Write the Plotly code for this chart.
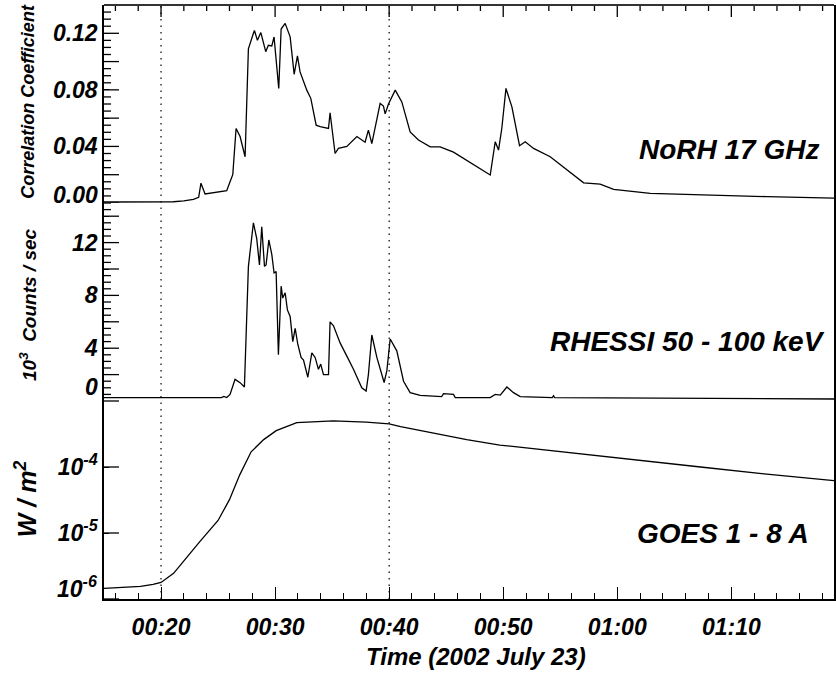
import plotly.graph_objects as go

# ---------------- data (time in minutes after 00:00 UT, 2002 July 23) -------------
norh_t = [15, 18, 21.08, 22.0, 22.84, 23.3, 23.5, 23.86, 24.5, 25.2, 25.76, 26.05, 26.29, 26.58,
          26.93, 27.37, 27.66, 28.1, 28.19, 28.45, 28.75, 29.18, 29.41, 29.71, 29.91, 30.32,
          30.53, 30.88, 31.32, 31.67, 31.96, 32.19, 32.78, 33.13, 33.6, 33.95, 34.68, 34.82,
          35.26, 35.55, 36.29, 37.17, 37.89, 38.18, 38.48, 39.21, 39.5, 39.65, 39.94, 40.53,
          41.11, 41.84, 42.57, 43.6, 44.47, 45.64, 48.86, 49.3, 49.59, 49.88, 50.24, 50.76,
          51.43, 51.93, 52.66, 54.12, 55.59, 57.05, 58.5, 59.68, 62.89, 67.28, 73.13, 79.0]
norh_v = [0.0007, 0.0007, 0.0009, 0.0015, 0.0026, 0.004, 0.014, 0.0064, 0.007, 0.0078, 0.0087,
          0.015, 0.020, 0.0527, 0.047, 0.0327, 0.109, 0.120, 0.122, 0.115, 0.1205, 0.107,
          0.1115, 0.111, 0.1174, 0.081, 0.123, 0.127, 0.1175, 0.091, 0.104, 0.0927, 0.0798,
          0.074, 0.055, 0.054, 0.0527, 0.0638, 0.035, 0.0386, 0.040, 0.047, 0.043, 0.0515,
          0.042, 0.0704, 0.0685, 0.063, 0.070, 0.0798, 0.0715, 0.0503, 0.0445, 0.0397, 0.0397,
          0.036, 0.0198, 0.0433, 0.0374, 0.053, 0.081, 0.068, 0.0405, 0.0433, 0.0386, 0.0327,
          0.0233, 0.0143, 0.0134, 0.0097, 0.0068, 0.0056, 0.0045, 0.0035]

rhessi_t = [15, 25.3, 25.5, 25.76, 26.05, 26.49, 26.93, 27.31, 27.66, 27.86, 28.1, 28.39, 28.63,
            28.83, 29.07, 29.21, 29.45, 29.71, 29.91, 30.09, 30.29, 30.53, 30.67, 30.88, 31.08,
            31.32, 31.55, 31.76, 31.99, 32.28, 32.49, 32.87, 33.22, 33.51, 33.8, 34.0, 34.24,
            34.68, 34.82, 35.12, 35.7, 36.29, 36.87, 37.6, 37.98, 38.18, 38.48, 38.92, 39.56,
            39.8, 40.09, 40.67, 41.26, 41.84, 42.72, 44.6, 44.77, 45.64, 45.79, 48.86, 49.3,
            49.74, 50.32, 50.9, 51.49, 54.3, 54.41, 54.5, 79.0]
rhessi_v = [0.26, 0.26, 0.35, 0.26, 0.5, 1.64, 1.39, 1.06, 10.2, 11.8, 13.5, 12.3, 10.3, 13.2,
            10.2, 10.3, 12.2, 11.1, 9.7, 9.8, 3.5, 8.7, 7.8, 8.2, 6.9, 6.4, 4.5, 5.5, 4.3, 3.3,
            3.1, 1.8, 3.65, 3.3, 2.4, 2.8, 2.0, 2.0, 6.0, 5.7, 4.4, 3.4, 2.4, 1.0, 0.75, 2.0,
            5.0, 3.3, 1.4, 2.3, 4.7, 3.8, 1.5, 0.63, 0.43, 0.33, 0.56, 0.5, 0.26, 0.26, 0.5,
            0.45, 1.06, 0.63, 0.33, 0.26, 0.4, 0.26, 0.15]

goes_t = [15, 18.2, 19.3, 20.0, 21.1, 22.2, 23.4, 25.0, 26.0, 26.9, 27.9, 29.0, 30.1, 31.9,
          35.1, 38.0, 40.0, 41.0, 42.7, 43.9, 46.8, 49.7, 55.6, 61.4, 67.3, 73.1, 79.0]
goes_v = [1.45e-6, 1.55e-6, 1.66e-6, 1.78e-6, 2.45e-6, 4.2e-6, 7.4e-6, 1.55e-5, 3.2e-5,
          7.6e-5, 1.7e-4, 2.6e-4, 3.55e-4, 4.7e-4, 5.0e-4, 4.8e-4, 4.5e-4, 4.1e-4, 3.6e-4,
          3.2e-4, 2.6e-4, 2.15e-4, 1.65e-4, 1.3e-4, 1.0e-4, 7.8e-5, 6.2e-5]

time_range = [15, 79]
time_ticks = [20, 30, 40, 50, 60, 70]
time_labels = ["00:20", "00:30", "00:40", "00:50", "01:00", "01:10"]
time_minor = [16, 18, 22, 24, 26, 28, 32, 34, 36, 38, 42, 44, 46, 48, 52, 54, 56, 58,
              62, 64, 66, 68, 72, 74, 76, 78]
marker_times = [20, 40]

norh_range = [0, 0.14]
norh_ticks = [0.0, 0.02, 0.04, 0.06, 0.08, 0.10, 0.12]
norh_labels = ["", "", "0.04", "", "0.08", "", "0.12"]
norh_minor = [0.005, 0.01, 0.015, 0.025, 0.03, 0.035, 0.045, 0.05, 0.055, 0.065, 0.07, 0.075,
              0.085, 0.09, 0.095, 0.105, 0.11, 0.115, 0.125, 0.13, 0.135]
rhessi_range = [0, 15]
rhessi_ticks = [0, 2, 4, 6, 8, 10, 12, 14]
rhessi_labels = ["", "", "4", "", "8", "", "12", ""]
rhessi_minor = [0.5, 1, 1.5, 2.5, 3, 3.5, 4.5, 5, 5.5, 6.5, 7, 7.5, 8.5, 9, 9.5, 10.5, 11,
                11.5, 12.5, 13, 13.5, 14.5, 15]
goes_ticks = [1e-6, 1e-5, 1e-4, 1e-3]
goes_labels = ["", "10<sup>-5</sup>", "10<sup>-4</sup>", ""]

# ---------------- styling ----------------
FAM = "Liberation Sans, Arial, sans-serif"
def F(size):
    return dict(family=FAM, size=size, color="black", weight="bold", style="italic")

TC = "black"
W, H = 836, 677
ML, MR, MT, MB = 104, 2, 5, 78
PLOT_W = W - ML - MR
PANEL_H = (H - MT - MB) / 3.0

fig = go.Figure()
lw = 1.3
fig.add_trace(go.Scatter(x=norh_t, y=norh_v, xaxis="x4", yaxis="y3", mode="lines",
                         line=dict(color="black", width=lw), showlegend=False))
fig.add_trace(go.Scatter(x=rhessi_t, y=rhessi_v, xaxis="x3", yaxis="y2", mode="lines",
                         line=dict(color="black", width=lw), showlegend=False))
fig.add_trace(go.Scatter(x=goes_t, y=goes_v, xaxis="x", yaxis="y", mode="lines",
                         line=dict(color="black", width=lw), showlegend=False))
fig.add_trace(go.Scatter(x=[None], y=[None], xaxis="x2", yaxis="y3", showlegend=False,
                         hoverinfo="skip"))

# ---- tick marks on the left and top frame edges, as short line segments ----
min_per_px = (time_range[1] - time_range[0]) / PLOT_W
norh_per_px = (norh_range[1] - norh_range[0]) / PANEL_H


def left_ticks(vals, length_px, xa, ya):
    xs, ys = [], []
    x0 = time_range[0]
    x1 = x0 + length_px * min_per_px
    for v in vals:
        xs += [x0, x1, None]
        ys += [v, v, None]
    fig.add_trace(go.Scatter(x=xs, y=ys, xaxis=xa, yaxis=ya, mode="lines",
                             line=dict(color=TC, width=1.3), showlegend=False,
                             hoverinfo="skip", cliponaxis=False))


def top_ticks(vals, length_px):
    xs, ys = [], []
    y0 = norh_range[1]
    y1 = y0 - length_px * norh_per_px
    for v in vals:
        xs += [v, v, None]
        ys += [y0, y1, None]
    fig.add_trace(go.Scatter(x=xs, y=ys, xaxis="x4", yaxis="y3", mode="lines",
                             line=dict(color=TC, width=1.3), showlegend=False,
                             hoverinfo="skip", cliponaxis=False))


left_ticks(norh_ticks, 15, "x4", "y3")
left_ticks(norh_minor, 7, "x4", "y3")
left_ticks(rhessi_ticks, 15, "x3", "y2")
left_ticks(rhessi_minor, 7, "x3", "y2")
left_ticks(goes_ticks, 15, "x", "y")
top_ticks(time_ticks, 12)
top_ticks(time_minor, 6)

base_y = dict(showgrid=False, zeroline=False, showline=True, linecolor="black",
              linewidth=1.5, mirror=True, tickcolor=TC, tickwidth=1.3,
              tickfont=F(23), automargin=False, ticks="inside", ticklen=5,
              ticklabelstandoff=0)
hidden_x = dict(range=time_range, domain=[0, 1], showticklabels=False, showgrid=False,
                zeroline=False, showline=False, ticks="", automargin=False)

fig.update_layout(
    template="none",
    width=W, height=H,
    margin=dict(l=ML, r=MR, t=MT, b=MB),
    paper_bgcolor="white", plot_bgcolor="white",
    xaxis=dict(range=time_range, domain=[0, 1], anchor="y", tickmode="array",
               tickvals=time_ticks, ticktext=time_labels, showgrid=False, zeroline=False,
               showline=True, linecolor="black", linewidth=1.5, ticks="inside",
               ticklen=12, tickwidth=1.3, tickcolor=TC, tickfont=F(23),
               ticklabelstandoff=7, automargin=False,
               minor=dict(dtick=2, tick0=0, ticks="inside", ticklen=6, tickwidth=1.3,
                          tickcolor=TC)),
    xaxis2=dict(range=time_range, overlaying="x4", anchor="free", position=1,
                side="bottom", tickmode="array", tickvals=time_ticks,
                showticklabels=False, showgrid=False, zeroline=False, showline=True,
                linecolor="#333", linewidth=2, ticks="", automargin=False),
    xaxis3=dict(anchor="y2", **hidden_x),
    xaxis4=dict(anchor="y3", **hidden_x),
    yaxis=dict(type="log", range=[-6, -3], domain=[0, 1/3], anchor="x",
               tickmode="array", tickvals=goes_ticks, ticktext=goes_labels, **base_y),
    yaxis2=dict(range=rhessi_range, domain=[1/3, 2/3], anchor="x3", tickmode="array",
                tickvals=rhessi_ticks, ticktext=rhessi_labels, **base_y),
    yaxis3=dict(range=norh_range, domain=[2/3, 1], anchor="x4", tickmode="array",
                tickvals=norh_ticks, ticktext=norh_labels, **base_y),
)

# vertical dotted reference lines
for t in marker_times:
    fig.add_shape(type="line", xref="x", yref="paper", x0=t, x1=t, y0=0, y1=1,
                  line=dict(color="black", width=1.2, dash="1.5px,5px"), layer="above")

ann = []
ann.append(dict(text="0.00", xref="paper", yref="y3", x=0, y=0, xanchor="right",
                yanchor="middle", xshift=-4, yshift=8, showarrow=False, font=F(23)))
ann.append(dict(text="0", xref="paper", yref="y2", x=0, y=0, xanchor="right",
                yanchor="middle", xshift=-4, yshift=14, showarrow=False, font=F(23)))
ann.append(dict(text="10<sup>-6</sup>", xref="paper", yref="y", x=0, y=-6, xanchor="right",
                yanchor="middle", xshift=-4, yshift=12, showarrow=False, font=F(23)))
ann.append(dict(text="Correlation Coefficient", xref="paper", yref="paper", x=0, y=0.837,
                xshift=-76, textangle=-90, xanchor="center", yanchor="middle",
                showarrow=False, font=F(18)))
ann.append(dict(text="10<sup>3</sup>  Counts / sec", xref="paper", yref="paper", x=0,
                y=0.495, xshift=-76, textangle=-90, xanchor="center", yanchor="middle",
                showarrow=False, font=F(19)))
ann.append(dict(text="W / m<sup>2</sup>", xref="paper", yref="paper", x=0, y=0.168,
                xshift=-78, textangle=-90, xanchor="center", yanchor="middle",
                showarrow=False, font=F(25)))
ann.append(dict(text="Time (2002 July 23)", xref="paper", yref="paper", x=0.51, y=-0.0976,
                xanchor="center", yanchor="middle", showarrow=False, font=F(24)))
ann.append(dict(text="NoRH 17 GHz", xref="paper", yref="paper", x=0.982, y=0.756,
                xanchor="right", yanchor="middle", showarrow=False, font=F(28)))
ann.append(dict(text="RHESSI 50 - 100 keV", xref="paper", yref="paper", x=0.990, y=0.433,
                xanchor="right", yanchor="middle", showarrow=False, font=F(28)))
ann.append(dict(text="GOES 1 - 8 A", xref="paper", yref="paper", x=0.969, y=0.111,
                xanchor="right", yanchor="middle", showarrow=False, font=F(28)))
fig.update_layout(annotations=ann)

fig.write_html("out.html", config={"displayModeBar": False},
               post_script="document.body.style.margin='0px';")
